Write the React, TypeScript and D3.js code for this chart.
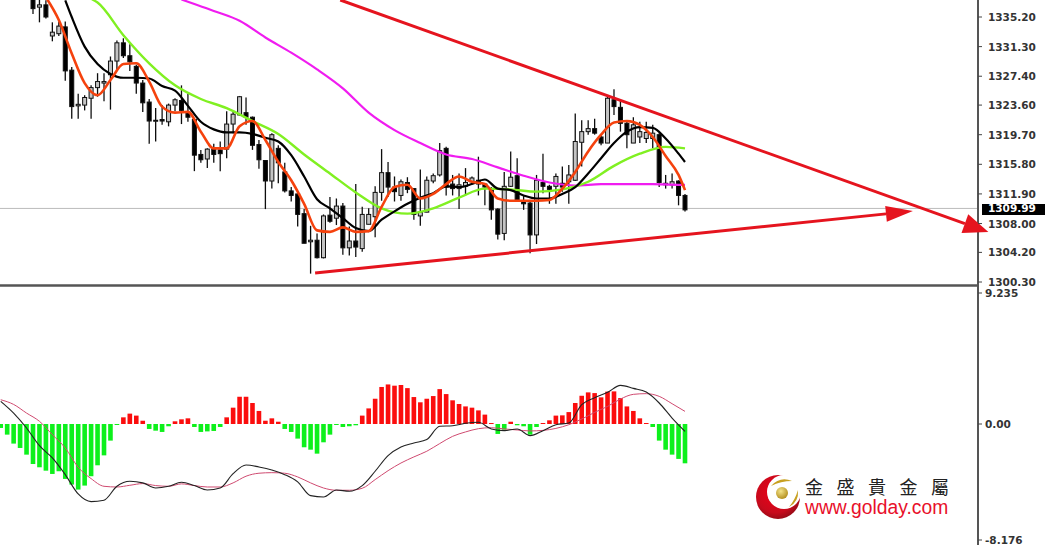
import React from 'react';
import * as d3 from 'd3';

// candles (first visible candle = index 0)
const opens = [
  1337.9, 1336.5, 1336.8, 1332.7, 1333.0, 1333.9, 1328.2, 1323.5, 1323.6, 1324.5,
  1325.9, 1326.5, 1327.6, 1329.4, 1331.8, 1330.1, 1328.7, 1326.5, 1324.0, 1321.5,
  1321.7, 1321.4, 1323.6, 1324.2, 1322.7, 1321.7, 1317.1, 1316.5, 1317.8, 1317.7,
  1317.8, 1321.1, 1322.3, 1322.6, 1322.0, 1318.4, 1316.3, 1313.6, 1317.9, 1314.8,
  1312.3, 1311.9, 1309.3, 1305.6, 1305.8, 1303.5, 1309.1, 1308.7, 1310.3,
  1304.8, 1305.7, 1304.7, 1307.9, 1308.9, 1312.1, 1314.7, 1312.8, 1311.7, 1313.4,
  1312.6, 1309.0, 1309.5, 1313.6, 1314.4, 1317.9, 1313.2, 1312.6, 1312.9, 1313.5,
  1313.7, 1313.2, 1312.4, 1309.9, 1306.7, 1312.9, 1314.3, 1311.0, 1310.7, 1306.5,
  1313.4, 1312.9, 1312.9, 1313.3, 1313.5, 1313.7, 1318.7, 1320.1, 1320.5, 1319.4,
  1318.6, 1324.3, 1323.3, 1321.2, 1318.6, 1319.4, 1319.2, 1319.2, 1319.7, 1313.1,
  1313.1, 1313.6, 1311.7,
];
const highs = [
  1337.9, 1337.7, 1337.4, 1334.5, 1334.6, 1334.6, 1328.6, 1325.1, 1324.9, 1326.2,
  1327.8, 1327.8, 1330.0, 1332.1, 1332.4, 1331.6, 1328.9, 1326.9, 1324.4, 1323.2,
  1323.6, 1323.8, 1324.5, 1326.2, 1325.1, 1321.8, 1317.7, 1317.9, 1318.5, 1318.8,
  1322.8, 1322.7, 1324.8, 1324.6, 1322.1, 1319.0, 1316.3, 1319.9, 1318.3, 1316.0,
  1312.8, 1312.3, 1309.9, 1307.7, 1306.7, 1309.2, 1311.5, 1311.3, 1310.7,
  1307.6, 1313.2, 1310.2, 1310.0, 1312.9, 1317.8, 1316.1, 1314.2, 1313.8, 1314.1,
  1312.6, 1315.1, 1314.2, 1314.6, 1318.6, 1318.1, 1314.4, 1314.6, 1315.3, 1314.2,
  1316.8, 1313.3, 1312.8, 1310.0, 1314.8, 1317.5, 1316.6, 1311.7, 1310.9, 1314.4,
  1317.2, 1313.1, 1314.6, 1315.5, 1315.7, 1322.5, 1321.6, 1321.6, 1321.8, 1319.7,
  1324.7, 1325.7, 1324.3, 1321.4, 1322.0, 1321.4, 1321.4, 1321.0, 1319.9, 1314.4,
  1314.6, 1313.7, 1311.9,
];
const lows = [
  1335.6, 1334.5, 1335.0, 1332.0, 1332.7, 1326.8, 1321.8, 1321.8, 1322.9, 1321.8,
  1324.7, 1324.1, 1323.0, 1328.2, 1329.8, 1328.1, 1325.1, 1322.7, 1318.5, 1318.8,
  1321.0, 1320.8, 1322.8, 1321.1, 1321.4, 1314.9, 1316.0, 1315.3, 1316.0, 1314.9,
  1316.6, 1319.9, 1322.2, 1321.0, 1317.7, 1315.2, 1309.9, 1312.6, 1313.3, 1312.1,
  1310.9, 1307.6, 1305.4, 1301.4, 1303.4, 1303.4, 1308.1, 1307.8, 1303.9,
  1303.8, 1303.6, 1304.3, 1307.9, 1306.2, 1311.0, 1311.5, 1310.9, 1311.0, 1312.0,
  1308.5, 1307.7, 1309.5, 1313.3, 1314.2, 1311.7, 1311.7, 1309.9, 1311.7, 1313.2,
  1311.7, 1310.4, 1308.5, 1305.9, 1305.8, 1312.8, 1311.0, 1309.8, 1304.1, 1305.3,
  1312.0, 1310.6, 1310.6, 1312.2, 1310.6, 1313.6, 1315.5, 1319.7, 1319.7, 1318.3,
  1318.6, 1322.3, 1320.1, 1317.9, 1318.6, 1318.6, 1318.6, 1317.9, 1312.8, 1312.6,
  1312.6, 1310.4, 1309.6,
];
const closes = [
  1336.3, 1336.8, 1335.2, 1333.2, 1334.0, 1328.1, 1323.4, 1323.7, 1324.6, 1325.9,
  1326.7, 1326.7, 1329.4, 1331.8, 1330.1, 1329.3, 1326.5, 1323.9, 1321.5, 1321.6,
  1321.5, 1323.6, 1324.3, 1322.9, 1322.0, 1317.0, 1316.4, 1317.8, 1317.1, 1317.2,
  1321.1, 1322.4, 1324.7, 1322.0, 1318.3, 1316.4, 1313.6, 1319.7, 1316.0, 1312.3,
  1311.7, 1309.2, 1305.4, 1305.8, 1303.5, 1309.0, 1308.3, 1310.3, 1304.8,
  1305.7, 1304.9, 1309.2, 1309.2, 1312.1, 1314.7, 1312.8, 1312.2, 1313.5, 1312.5,
  1309.2, 1309.5, 1313.7, 1314.3, 1317.6, 1312.8, 1312.6, 1313.1, 1313.4, 1314.0,
  1313.2, 1312.8, 1309.8, 1306.6, 1312.9, 1314.1, 1311.1, 1310.6, 1306.5, 1313.7,
  1312.9, 1312.5, 1314.2, 1312.8, 1314.4, 1318.8, 1320.1, 1320.5, 1319.9, 1318.6,
  1324.5, 1323.4, 1321.2, 1319.7, 1321.0, 1320.1, 1320.0, 1319.9, 1313.4, 1313.3,
  1313.5, 1311.7, 1309.8,
];

// moving averages, read every few candles
const orangeIndex = [
  2, 4, 6, 8, 10, 12, 14, 16, 18, 20, 22, 24, 26, 28, 30, 32, 34, 36, 38, 40, 42, 44, 46, 48,
  50, 52, 54, 56, 58, 60, 62, 64, 66, 68, 70, 72, 74, 76, 78, 80, 82, 84, 86, 88, 90, 92, 94, 96, 98, 100, 101,
];
const orangeValues = [
  1337.8, 1334.8, 1330.4, 1326.5, 1324.9, 1326.9, 1329.0, 1329.1, 1326.7, 1323.4, 1322.6, 1322.7,
  1320.1, 1317.9, 1317.9, 1320.8, 1321.5, 1319.0, 1316.1, 1313.7, 1310.6, 1307.1, 1306.9, 1307.5,
  1306.9, 1307.0, 1310.2, 1312.8, 1313.1, 1311.3, 1311.9, 1313.2, 1314.2, 1313.5, 1313.2, 1311.3,
  1311.0, 1311.0, 1311.0, 1311.1, 1312.6, 1314.8, 1317.5, 1319.7, 1321.3, 1321.5, 1321.0, 1319.4,
  1316.9, 1314.4, 1312.4,
];
const blackIndex = [
  5, 6, 8, 10, 12, 14, 16, 18, 20, 22, 24, 26, 28, 30, 32, 34, 36, 38, 40, 42, 44, 46, 48,
  50, 52, 54, 56, 58, 60, 62, 64, 66, 68, 70, 72, 74, 76, 78, 80, 82, 84, 86, 88, 90, 92, 94, 96, 98, 100, 101,
];
const blackValues = [
  1337.4, 1335.2, 1331.3, 1329.0, 1327.7, 1327.2, 1327.2, 1327.1, 1326.1, 1325.5, 1323.5, 1321.4,
  1320.4, 1320.0, 1320.0, 1319.8, 1319.3, 1318.8, 1317.0, 1314.2, 1311.2, 1310.0, 1308.7,
  1307.4, 1307.0, 1308.5, 1309.6, 1310.6, 1311.4, 1312.0, 1312.9, 1312.8, 1313.2, 1313.8, 1312.6,
  1312.4, 1311.7, 1311.3, 1311.3, 1311.9, 1312.8, 1314.6, 1316.6, 1318.6, 1320.1, 1320.7, 1320.6,
  1319.2, 1317.2, 1316.1,
];
const greenIndex = [
  9, 10, 14, 18, 22, 26, 30, 34, 38, 42, 46, 50, 54, 58, 62, 66, 70, 74, 78, 82, 86, 90, 94, 98, 101,
];
const greenValues = [
  1337.6, 1337.1, 1332.8, 1329.1, 1326.2, 1324.4, 1323.2, 1321.5, 1319.8, 1317.1, 1314.6, 1312.1, 1310.0,
  1309.3, 1310.0, 1311.4, 1312.6, 1312.5, 1312.2, 1312.5, 1313.5, 1315.6, 1317.2, 1318.1, 1317.9,
];
const magentaIndex = [
  23, 24, 28, 32, 36, 40, 44, 48, 52, 56, 60, 64, 68, 72, 76, 80, 84, 88, 92, 96, 100, 101,
];
const magentaValues = [
  1337.5, 1337.2, 1336.0, 1334.7, 1332.5, 1330.5, 1328.3, 1325.8, 1322.6, 1320.3, 1318.6, 1317.1,
  1316.5, 1315.4, 1314.3, 1313.4, 1313.0, 1313.2, 1313.2, 1313.2, 1313.1, 1313.1,
];

// MACD histogram, from candle index -5
const histFirstIndex = -5;
const histValues = [
  -0.28, -0.75, -1.38, -1.69, -2.16, -2.82, -3.05, -3.29, -3.52, -3.33, -3.87, -4.27, -4.62, -4.34,
  -3.68, -2.91, -2.21, -1.17, -0.07, 0.47, 0.73, 0.59, 0.23, -0.35, -0.47, -0.56, -0.16, 0.19, 0.33,
  0.4, -0.21, -0.56, -0.52, -0.49, -0.21, 0.47, 1.15, 1.92, 1.92, 1.48, 0.92, 0.23, 0.4, 0.16, -0.35,
  -0.56, -1.03, -1.64, -1.81, -2.09, -1.29, -0.75, -0.07, -0.21, -0.16, -0.09, 0.59, 1.1, 1.78, 2.61,
  2.79, 2.7, 2.75, 2.53, 1.9, 1.53, 1.78, 1.97, 2.46, 2.11, 1.67, 1.41, 1.24, 1.15, 0.96, 0.66, 0.07,
  -0.7, -0.4, 0.16, -0.09, -0.16, -0.75, -0.21, 0.07, 0.26, 0.59, 0.61, 0.84, 1.48, 1.99, 2.23, 2.18,
  1.88, 2.28, 2.3, 1.83, 1.24, 0.92, 0.4, 0.07, -0.21, -1.17, -1.81, -2.16, -2.46, -2.77,
];
// MACD lines, every second candle from index -5
const macdFirstIndex = -5;
const macdBlack = [
  1.6, 0.77, -0.28, -1.53, -2.39, -3.57, -4.93, -5.47, -5.37, -4.39, -4.04, -4.15, -4.51, -4.39,
  -4.11, -4.34, -4.65, -4.51, -3.5, -2.89, -3.03, -3.24, -3.57, -4.08, -5.05, -5.14, -4.65, -4.74,
  -4.34, -3.33, -2.23, -1.62, -1.34, -1.1, -0.16, -0.12, 0.05, 0.12, -0.35, -0.47, -0.35, -0.82,
  -0.47, -0.05, 0.07, 1.36, 1.85, 2.23, 2.72, 2.51, 2.25, 1.48, 0.42, -0.52,
];
const macdPink = [
  1.71, 1.38, 0.77, 0.19, -0.75, -1.69, -3.05, -3.85, -4.39, -4.44, -4.32, -4.2, -4.34, -4.39,
  -4.22, -4.34, -4.44, -4.44, -4.15, -3.68, -3.47, -3.43, -3.47, -3.73, -4.15, -4.51, -4.67, -4.67,
  -4.53, -3.92, -3.29, -2.75, -2.32, -1.92, -1.38, -0.87, -0.56, -0.33, -0.26, -0.35, -0.42, -0.49,
  -0.45, -0.31, -0.05, 0.35, 0.82, 1.24, 1.76, 2.09, 2.14, 1.95, 1.43, 0.89,
];

const priceTicks = ['1335.20', '1331.30', '1327.40', '1323.60', '1319.70', '1315.80', '1311.90', '1308.00', '1304.20', '1300.30'];
const macdTicks = ['9.235', '0.00', '-8.176'];
const lastPrice = 1309.99;

// trend lines: [candle index, price] at each end
const fallingLine = [[47.6, 1337.44], [148, 1306.87]];
const risingLine = [[43.7, 1301.47], [136.3, 1309.64]];

const x = d3.scaleLinear().domain([0, 101]).range([33, 685]);
const y = d3.scaleLinear().domain([1300.3, 1335.2]).range([282, 17]);
const yMacd = d3.scaleLinear().domain([-8.176, 0, 9.235]).range([540, 424, 293]);

const AXIS_X = 978;

const priceLine = (index: number[], values: number[]) =>
  d3
    .line<number>()
    .curve(d3.curveMonotoneX)
    .x((d, i) => x(index[i]))
    .y((d) => y(d))(values) || '';

const macdLine = (values: number[]) =>
  d3
    .line<number>()
    .curve(d3.curveMonotoneX)
    .x((d, i) => x(macdFirstIndex + i * 2))
    .y((d) => yMacd(d))(values) || '';

const Arrow = ({ ends, head, wide }: { ends: number[][]; head: number; wide: number }) => {
  const [x0, y0] = [x(ends[0][0]), y(ends[0][1])];
  const [x1, y1] = [x(ends[1][0]), y(ends[1][1])];
  const a = Math.atan2(y1 - y0, x1 - x0);
  const bx = x1 - head * Math.cos(a);
  const by = y1 - head * Math.sin(a);
  const nx = -Math.sin(a) * wide;
  const ny = Math.cos(a) * wide;
  return (
    <g fill="#e5141e" stroke="#e5141e">
      <line x1={x0} y1={y0} x2={bx} y2={by} strokeWidth={3} />
      <path d={`M${x1},${y1}L${bx + nx},${by + ny}L${bx - nx},${by - ny}Z`} stroke="none" />
    </g>
  );
};

const tickFont = { fontFamily: '"DejaVu Sans"', fontSize: 10.5, fill: '#333', fontWeight: 600 };

export default function App() {
  return (
    <svg
      width={1045}
      height={545}
      style={{ position: 'absolute', left: 0, top: 0, background: '#fff' }}
    >
      <defs>
        <clipPath id="plot">
          <rect x={0} y={0} width={AXIS_X} height={284} />
        </clipPath>
        <filter id="soft" x="-5%" y="-5%" width="110%" height="110%">
          <feGaussianBlur stdDeviation={0.35} />
        </filter>
        <radialGradient id="ball" cx="45%" cy="40%" r="70%">
          <stop offset="0%" stopColor="#f00018" />
          <stop offset="65%" stopColor="#c80a1c" />
          <stop offset="100%" stopColor="#7c0a12" />
        </radialGradient>
        <radialGradient id="gold" cx="40%" cy="35%" r="70%">
          <stop offset="0%" stopColor="#f4e48a" />
          <stop offset="100%" stopColor="#b08a18" />
        </radialGradient>
      </defs>

      <line x1={0} x2={AXIS_X} y1={y(lastPrice)} y2={y(lastPrice)} stroke="#bbb" />

      <g clipPath="url(#plot)" filter="url(#soft)">
        {opens.map((o, i) => {
          const c = closes[i];
          const top = y(Math.max(o, c));
          const bottom = y(Math.min(o, c));
          return (
            <g key={i} stroke="#111">
              <line x1={x(i)} x2={x(i)} y1={y(highs[i])} y2={y(lows[i])} strokeWidth={1.3} />
              <rect
                x={x(i) - 2}
                y={top}
                width={4}
                height={Math.max(bottom - top, 1)}
                fill={c >= o ? '#c4c4c4' : '#000'}
                strokeWidth={1}
              />
            </g>
          );
        })}
        <g fill="none" strokeLinejoin="round">
          <path d={priceLine(magentaIndex, magentaValues)} stroke="#f01cf0" strokeWidth={2.2} />
          <path d={priceLine(greenIndex, greenValues)} stroke="#80f020" strokeWidth={2.4} />
          <path d={priceLine(blackIndex, blackValues)} stroke="#000" strokeWidth={2.2} />
          <path d={priceLine(orangeIndex, orangeValues)} stroke="#f5420f" strokeWidth={2.6} />
        </g>
      </g>

      <g filter="url(#soft)">
        {histValues.map((v, i) => {
          const xi = x(histFirstIndex + i);
          const top = yMacd(Math.max(v, 0));
          const bottom = yMacd(Math.min(v, 0));
          return (
            <rect
              key={i}
              x={xi - 2.3}
              y={top}
              width={4.6}
              height={bottom - top}
              fill={v >= 0 ? '#fb0d0d' : '#0cf01a'}
            />
          );
        })}
        <path d={macdLine(macdPink)} fill="none" stroke="#cf4a70" strokeWidth={1} />
        <path d={macdLine(macdBlack)} fill="none" stroke="#222" strokeWidth={1.1} />
      </g>

      {/* panel frame */}
      <line x1={0} x2={AXIS_X} y1={285.5} y2={285.5} stroke="#555" strokeWidth={2.5} />
      <line x1={AXIS_X} x2={AXIS_X} y1={0} y2={545} stroke="#555" strokeWidth={2} />

      {/* the falling arrow runs over the axis line */}
      <Arrow ends={fallingLine} head={25} wide={10} />
      <Arrow ends={risingLine} head={27} wide={8} />

      {priceTicks.map((t) => (
        <g key={t}>
          <line x1={AXIS_X} x2={AXIS_X + 4} y1={y(+t)} y2={y(+t)} stroke="#444" />
          <text x={988} y={y(+t) + 4} {...tickFont}>
            {t}
          </text>
        </g>
      ))}
      <rect x={982} y={204} width={63} height={11} fill="#000" />
      <text x={988} y={y(lastPrice) + 4} {...tickFont} fill="#fff">
        {lastPrice.toFixed(2)}
      </text>
      {macdTicks.map((t) => (
        <g key={t}>
          <line x1={AXIS_X} x2={AXIS_X + 4} y1={yMacd(+t)} y2={yMacd(+t)} stroke="#444" />
          <text x={985} y={yMacd(+t) + 4} {...tickFont}>
            {t}
          </text>
        </g>
      ))}

      {/* logo */}
      <g>
        <circle cx={778} cy={497} r={22} fill="url(#ball)" />
        <circle cx={784} cy={492} r={17} fill="#fff" />
        <circle cx={782} cy={493} r={6} fill="url(#gold)" />
        <path d="M771,486Q780,476 792,481Q781,481 771,486Z" fill="#c8a020" />
        <path d="M789,507Q799,502 798,490Q795,500 789,507Z" fill="#c8a020" />
        <text x={805} y={494} fontFamily='"Noto Sans CJK TC"' fontSize={18} fill="#222" letterSpacing={13.5}>
          金盛貴金屬
        </text>
        <text x={805} y={514} fontFamily='"Liberation Sans"' fontSize={19.3} fill="#e8102a">
          www.golday.com
        </text>
      </g>
    </svg>
  );
}
